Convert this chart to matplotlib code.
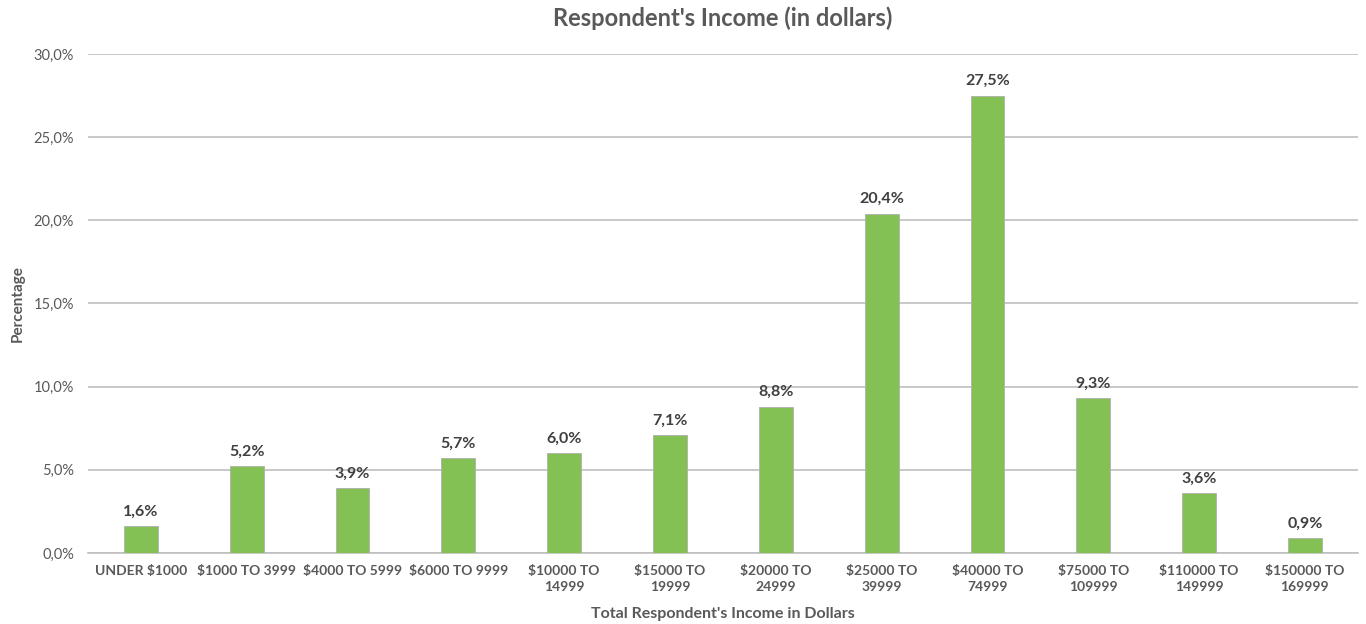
import numpy as np
import matplotlib.pyplot as plt
from matplotlib.ticker import FuncFormatter

# Income brackets and share of respondents (%)
categories = ['UNDER $1000', '$1000 TO 3999', '$4000 TO 5999', '$6000 TO 9999',
              '$10000 TO\n14999', '$15000 TO\n19999', '$20000 TO\n24999',
              '$25000 TO\n39999', '$40000 TO\n74999', '$75000 TO\n109999',
              '$110000 TO\n149999', '$150000 TO\n169999']
percent = [1.6, 5.2, 3.9, 5.7, 6.0, 7.1, 8.8, 20.4, 27.5, 9.3, 3.6, 0.9]

plt.rcParams['font.family'] = ['Lato', 'DejaVu Sans']

fig = plt.figure(figsize=(13.66, 6.24), dpi=100)
ax = fig.add_axes([0.0644, 0.1138, 0.9296, 0.7997])

x = np.arange(len(categories))
bars = ax.bar(x, percent, width=0.32, color='#84C155', edgecolor='#B0B0B0',
              linewidth=0.6, zorder=3)

for b, v in zip(bars, percent):
    ax.text(b.get_x() + b.get_width() / 2, v + 0.45, f'{v:.1f}%'.replace('.', ','),
            ha='center', va='bottom', fontsize=11.5, fontweight='bold', color='#404040')

ax.set_xlim(-0.5, len(categories) - 0.5)
ax.set_ylim(0, 30)
ax.set_yticks(np.arange(0, 31, 5))
ax.yaxis.set_major_formatter(FuncFormatter(lambda v, p: f'{v:.1f}%'.replace('.', ',')))
ax.set_xticks(x)
ax.set_xticklabels(categories, fontsize=10, fontweight='bold', color='#595959',
                   linespacing=1.35)
ax.tick_params(axis='y', labelsize=10.5, labelcolor='#595959', length=0, pad=10)
ax.tick_params(axis='x', length=0, pad=9)

ax.grid(axis='y', color='#BFBFBF', linewidth=1.2, zorder=0)
for s in ['top', 'right', 'left']:
    ax.spines[s].set_visible(False)
ax.spines['bottom'].set_color('#BFBFBF')
ax.spines['bottom'].set_linewidth(1.2)

ax.set_title("Respondent's Income (in dollars)", fontsize=17, fontweight='bold',
             color='#595959', pad=20)
ax.set_xlabel("Total Respondent's Income in Dollars", fontsize=11.5, fontweight='bold',
              color='#595959', labelpad=10)
ax.set_ylabel('Percentage', fontsize=11, fontweight='bold', color='#595959', labelpad=6)

fig.savefig('out.png', dpi=100, facecolor='white')
